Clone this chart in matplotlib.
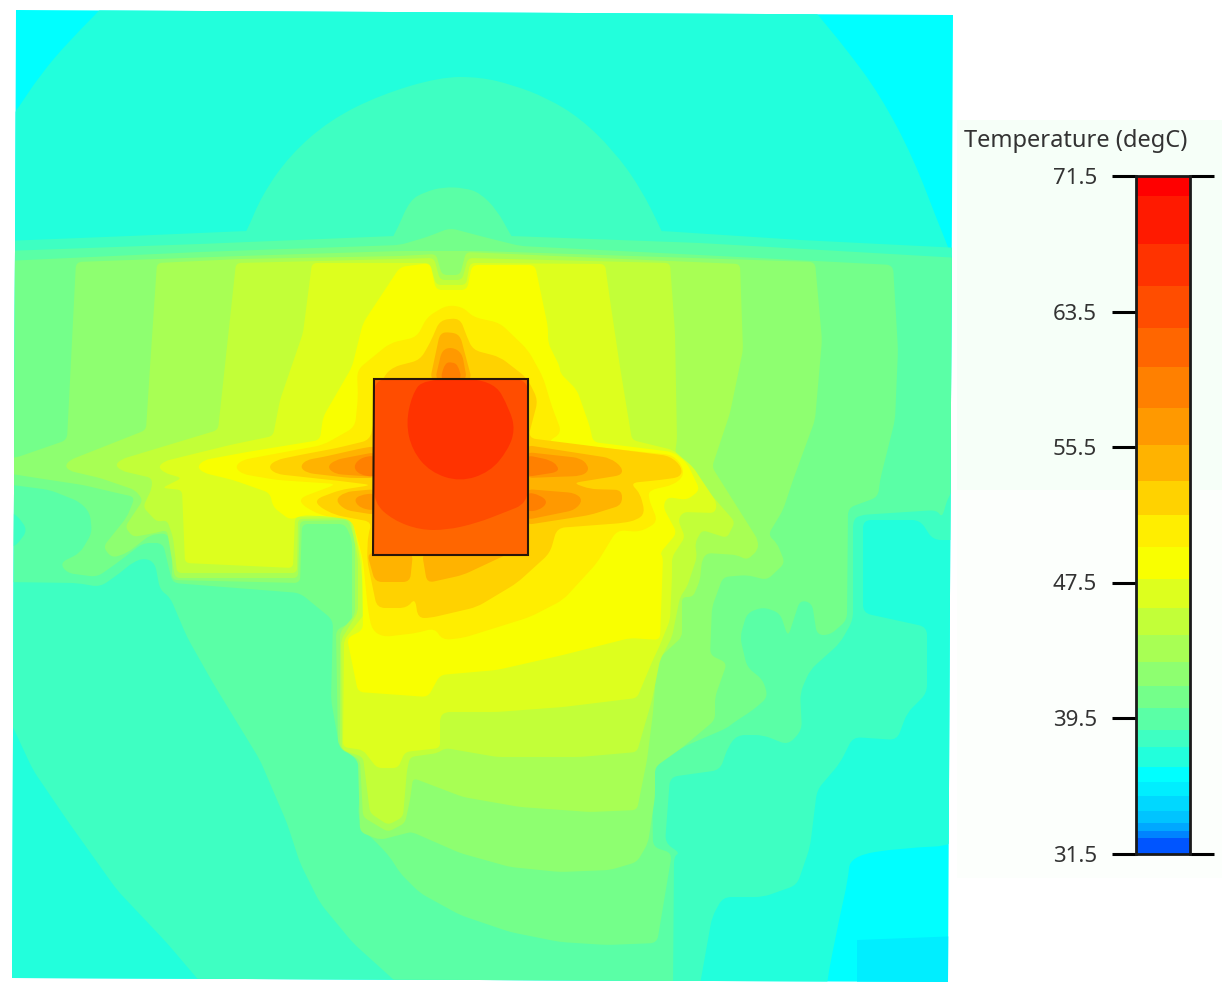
import numpy as np
import matplotlib
matplotlib.use("Agg")
import matplotlib.pyplot as plt
from matplotlib.colors import ListedColormap, BoundaryNorm
from matplotlib.path import Path
from matplotlib.patches import PathPatch, Polygon, Rectangle

# colour scale of the legend (degC band edges, low to high)
BAND_EDGES = [31.5, 32.4, 32.8, 33.3, 34.0, 34.9, 35.7, 36.6, 37.8, 38.8, 40.1, 41.4, 42.8,
              44.4, 46.0, 47.7, 49.6, 51.5, 53.5, 55.6, 57.8, 60.2, 62.5, 65.0, 67.5, 70.3, 71.5]
BAND_COLORS = ['#0055FF', '#0084FF', '#00A8FF', '#00C4FF', '#00D8FF', '#00EEFF', '#00FFFF',
               '#22FFDC', '#3EFFC2', '#5AFFA6', '#74FF8A', '#8EFF70', '#A8FF54', '#C2FF38',
               '#DDFF1E', '#F9FF00', '#FFEE00', '#FFD200', '#FFB300', '#FF9900', '#FF8000',
               '#FF6600', '#FF4D00', '#FF3300', '#FF1A00', '#FF0000']
TICK_VALUES = [31.5, 39.5, 47.5, 55.5, 63.5, 71.5]
LEGEND_TITLE = 'Temperature (degC)'

# map outline
MAP_FRAME = [(16, 10), (953, 15), (948, 982), (12, 978)]

# isotherm outlines: (x, y) of each closed region at or above the level
ISO_35_7 = [(5, 10), (5, 1000), (960, 1000), (960, 10)]
ISO_36_6 = [(-20, 160), (15, 113), (40, 75), (70, 40), (110, 0), (120, -20), (790, -20), (817, 14), (847, 50), (880, 95),
            (913, 157), (942, 233), (970, 300), (970, 845), (900, 848), (850, 856), (848, 880), (840, 915),
            (825, 990), (825, 1020), (-20, 1020)]
ISO_37_8 = [(5, 241), (130, 236), (247, 231), (662, 231), (800, 240), (960, 248),
            (960, 540), (933, 540), (920, 520), (863, 520), (863, 613), (927, 627), (927, 693), (907, 713),
            (897, 740), (853, 737), (840, 763), (817, 790), (810, 847), (797, 885), (763, 897), (723, 897),
            (712, 917), (699, 990), (207, 990), (167, 943), (117, 890), (67, 820), (33, 770), (5, 710)]
ISO_37_8_DOME = [(230, 262), (247, 231), (262, 195), (290, 155), (330, 120), (380, 95), (440, 77), (480, 77),
                 (513, 85), (547, 98), (580, 118), (613, 150), (640, 187), (662, 231), (675, 262)]
ISO_38_8 = [(5, 251), (200, 244), (395, 236), (510, 236), (700, 243),
            (960, 258), (960, 480), (948, 497), (942, 518), (937, 510), (860, 515), (853, 520), (853, 620),
            (840, 643), (810, 670), (800, 693), (802, 730), (788, 745), (763, 735), (737, 735), (728, 747),
            (720, 770), (670, 777), (665, 843), (680, 853), (674, 856), (673, 990), (405, 990), (353, 943),
            (320, 903), (300, 863), (287, 823), (260, 760), (213, 683), (187, 637), (170, 597), (160, 590),
            (155, 563), (145, 558), (133, 562), (120, 573), (100, 587), (77, 583), (5, 582)]
ISO_38_8_DOME = [(385, 250), (395, 234), (410, 200), (425, 192), (443, 187), (465, 188), (480, 193), (497, 210),
                 (510, 234), (520, 250)]
ISO_37_8_BLOB = [(5, 513), (15, 513), (28, 530), (15, 547), (5, 547)]
ISO_40_1 = [(5, 261), (200, 252), (400, 245), (427, 237), (450, 228), (480, 236), (520, 246), (700, 255), (893, 265),
            (898, 350), (895, 420), (880, 480), (878, 497), (848, 508), (847, 620), (830, 635), (817, 635),
            (812, 603), (800, 600), (788, 637), (780, 613), (763, 607), (747, 613), (740, 637), (747, 667),
            (763, 680), (768, 697), (753, 710), (733, 723), (727, 728), (683, 747), (657, 765), (652, 773),
            (653, 847), (672, 853), (657, 943), (607, 945), (560, 942), (510, 932), (460, 915), (420, 893),
            (400, 873), (390, 857), (377, 843), (363, 830), (358, 815), (362, 770), (353, 755), (340, 750),
            (331, 700), (333, 620), (300, 593), (173, 583), (170, 573), (163, 543), (143, 543), (117, 563),
            (97, 577), (67, 573), (60, 563), (80, 553), (92, 533), (90, 513), (80, 502), (50, 490), (5, 484)]
ISO_41_4 = [(76, 262), (240, 256), (400, 251), (480, 251), (815, 262), (822, 340), (815, 420), (793, 480), (783, 510),
            (768, 535), (777, 543), (785, 563), (767, 580), (747, 575), (723, 577), (712, 607), (710, 655),
            (727, 663), (715, 697), (715, 720), (683, 747), (655, 767), (655, 797), (648, 843), (637, 862),
            (610, 870), (560, 872), (510, 867), (460, 853), (412, 832), (407, 833), (380, 840), (360, 832),
            (358, 760), (338, 745), (336, 630), (352, 622), (352, 540), (345, 524), (302, 524), (300, 583),
            (172, 580), (172, 547), (167, 533), (150, 535), (140, 543), (127, 553), (112, 558), (103, 547),
            (127, 517), (135, 497), (117, 493), (83, 485), (50, 480), (5, 473), (5, 458), (15, 458), (67, 440)]
ISO_42_8 = [(157, 263), (240, 259), (400, 256), (436, 254), (442, 275), (460, 275), (466, 252), (600, 258), (740, 264),
            (743, 350), (730, 413), (712, 467), (758, 540), (758, 550), (747, 560), (737, 555), (707, 553),
            (702, 560), (700, 580), (693, 597), (682, 597), (682, 637), (657, 660), (653, 713), (647, 760),
            (637, 810), (590, 812), (520, 807), (463, 797), (413, 778), (410, 800), (405, 823), (388, 832),
            (363, 817), (360, 760), (340, 748), (340, 632), (355, 615), (355, 540), (348, 520), (300, 521),
            (298, 578), (175, 578), (167, 530), (155, 533), (133, 537), (125, 527), (143, 500), (135, 490),
            (100, 478), (70, 471), (65, 466), (70, 460), (146, 430), (150, 367)]
ISO_44_4 = [(236, 263), (320, 261), (434, 258), (440, 280), (462, 280), (468, 258), (670, 263), (675, 333), (677, 440),
            (675, 453), (735, 522), (727, 538), (702, 530), (695, 543), (697, 557), (687, 587), (680, 597),
            (672, 637), (660, 660), (652, 700), (637, 752), (580, 757), (497, 757), (445, 748), (438, 753),
            (410, 757), (407, 770), (403, 817), (388, 825), (370, 813), (363, 757), (342, 750), (341, 640),
            (358, 612), (358, 560), (350, 518), (298, 519), (297, 573), (177, 573), (173, 537), (167, 520),
            (157, 522), (143, 507), (152, 488), (152, 478), (122, 471), (115, 465), (122, 459), (218, 430)]
ISO_46_0 = [(312, 263), (430, 263), (436, 285), (466, 285), (470, 263), (605, 264), (610, 300), (620, 367), (632, 440),
            (673, 450), (693, 467), (717, 503), (715, 513), (683, 512), (678, 520), (685, 537), (672, 557),
            (672, 577), (670, 620), (660, 645), (652, 662), (637, 698), (563, 707), (497, 712), (445, 712),
            (440, 717), (440, 748), (405, 752), (398, 768), (377, 768), (363, 750), (343, 747), (344, 640),
            (366, 612), (360, 560), (352, 515), (295, 517), (293, 568), (185, 563), (182, 490), (162, 488),
            (182, 478), (165, 473), (158, 467), (165, 461), (230, 445), (273, 436), (280, 400), (303, 333)]
ISO_47_7 = [(197, 467), (204, 460), (247, 452), (320, 440), (323, 417), (352, 367), (363, 323), (400, 267), (430, 263),
            (436, 290), (467, 290),
            (472, 265), (535, 265), (548, 327), (548, 343), (560, 367), (560, 373), (577, 390), (590, 427),
            (593, 442), (673, 452), (687, 463), (700, 490), (687, 500), (667, 497), (663, 507), (677, 533),
            (660, 553), (663, 557), (660, 640), (630, 638), (563, 655), (497, 670), (440, 675), (428, 697),
            (358, 692), (347, 638), (363, 630), (362, 560), (352, 518), (303, 515), (290, 520), (273, 507),
            (270, 493), (233, 480), (204, 473)]
ISO_49_6 = [(235, 467), (242, 460), (285, 452), (323, 445), (355, 427), (358, 397), (357, 370), (390, 343), (417, 337),
            (427, 317), (447, 305),
            (463, 307), (473, 317), (500, 323), (528, 350), (543, 377), (552, 407), (562, 433), (547, 442),
            (673, 455), (683, 467), (683, 477), (673, 485), (650, 490), (648, 497), (658, 522), (640, 532),
            (617, 530), (597, 563), (563, 600), (530, 617), (463, 638), (442, 640), (435, 628), (417, 633),
            (383, 637), (372, 630), (368, 610), (363, 560), (358, 540), (352, 520), (320, 515), (302, 505),
            (300, 498), (337, 484), (277, 480), (242, 474)]
ISO_51_5 = [(268, 467), (276, 460), (300, 455), (337, 448), (370, 440), (383, 377), (393, 367), (420, 360), (430, 343),
            (440, 320), (460, 318),
            (467, 337), (473, 350), (500, 357), (527, 378), (538, 400), (528, 438), (670, 456), (682, 467),
            (681, 477), (660, 480), (630, 483), (640, 493), (645, 513), (637, 520), (623, 523), (557, 528),
            (550, 553), (517, 583), (477, 607), (430, 618), (418, 618), (415, 598), (407, 608), (377, 608),
            (367, 560), (368, 535), (372, 522), (335, 515), (318, 506), (316, 499), (340, 490), (372, 485),
            (340, 481), (276, 474)]
ISO_53_5 = [
    [(300, 467), (306, 460), (323, 457), (363, 448), (376, 446), (376, 478), (350, 478), (307, 473)],
    [(335, 500), (345, 492), (376, 489), (376, 515), (345, 510)],
    [(430, 380), (440, 333), (450, 332), (460, 335), (472, 380)],
    [(526, 445), (610, 458), (622, 467), (622, 475), (573, 483), (590, 489), (622, 490), (622, 505), (590, 515),
     (526, 525)],
    [(367, 553), (375, 582), (410, 582), (413, 553)],
    [(422, 553), (427, 583), (463, 575), (510, 553)],
]
ISO_55_6 = [
    [(327, 467), (335, 460), (350, 457), (376, 452), (376, 477), (335, 474)],
    [(354, 500), (360, 495), (376, 493), (376, 511), (360, 508)],
    [(435, 380), (442, 350), (452, 347), (462, 353), (467, 380)],
    [(526, 452), (580, 458), (588, 465), (588, 472), (580, 476), (526, 478)],
    [(526, 489), (575, 493), (583, 500), (575, 510), (526, 520)],
]
ISO_57_8 = [
    [(353, 467), (360, 458), (376, 455), (376, 477), (360, 475)],
    [(440, 380), (445, 363), (452, 362), (458, 365), (462, 380)],
    [(526, 455), (550, 460), (558, 466), (558, 472), (526, 477)],
    [(526, 492), (540, 495), (548, 502), (540, 510), (526, 512)],
]
ISO_60_2 = [(374, 379), (528, 379), (528, 555), (373, 555)]
ISO_62_5 = [(374, 379), (528, 379), (528, 503), (503, 513), (477, 523), (447, 530), (420, 530), (393, 520), (374, 503)]
ISO_65_0 = [(423, 379), (412, 395), (406, 423), (412, 450), (430, 472), (460, 482), (490, 472), (508, 450), (515, 430),
            (510, 410), (493, 379)]
ISO_34_9 = [(857, 940), (960, 936), (960, 990), (857, 990)]
CHIP_FRAME = [(374, 379), (528, 379), (528, 555), (373, 555)]

cmap = ListedColormap(BAND_COLORS)
norm = BoundaryNorm(BAND_EDGES, cmap.N)


def rounded(points, r):
    """Closed path through the outline with softened corners (library curves)."""
    p = np.asarray(points, float)
    n = len(p)
    verts, codes = [], []
    for i in range(n):
        a, b, c = p[i - 1], p[i], p[(i + 1) % n]
        la, lc = np.linalg.norm(a - b), np.linalg.norm(c - b)
        s = b + (a - b) * min(r, la / 2) / max(la, 1e-6)
        e = b + (c - b) * min(r, lc / 2) / max(lc, 1e-6)
        verts.append(s)
        codes.append(Path.MOVETO if i == 0 else Path.LINETO)
        verts += [b, e]
        codes += [Path.CURVE3, Path.CURVE3]
    verts.append(verts[0])
    codes.append(Path.CLOSEPOLY)
    return Path(verts, codes)


fig = plt.figure(figsize=(12.25, 9.9), dpi=100, facecolor='white')
ax = fig.add_axes([0, 0, 1, 1])
ax.set_xlim(0, 1225)
ax.set_ylim(990, 0)
ax.axis('off')

# legend panel background
ax.add_patch(Rectangle((957, 120), 265, 370, fc='#F6FFF8', ec='none', zorder=0))
ax.add_patch(Rectangle((957, 490), 265, 388, fc='#FCFFFC', ec='none', zorder=0))

frame = Polygon(MAP_FRAME, closed=True, fc='none', ec='none', transform=ax.transData)
ax.add_patch(frame)

layers = [
    (35.7, ISO_35_7, 0), (36.6, ISO_36_6, 40), (37.8, ISO_37_8, 8), (37.8, ISO_37_8_DOME, 40), (38.8, ISO_38_8, 8),
    (38.8, ISO_38_8_DOME, 15), (37.8, ISO_37_8_BLOB, 8), (40.1, ISO_40_1, 7), (41.4, ISO_41_4, 6),
    (42.8, ISO_42_8, 5), (44.4, ISO_44_4, 5), (46.0, ISO_46_0, 5), (47.7, ISO_47_7, 6), (49.6, ISO_49_6, 8),
    (51.5, ISO_51_5, 8),
]
for level, shapes in zip([53.5, 55.6, 57.8], [ISO_53_5, ISO_55_6, ISO_57_8]):
    for s in shapes:
        layers.append((level, s, 7))
layers += [(60.2, ISO_60_2, 0), (62.5, ISO_62_5, 14), (65.0, ISO_65_0, 30), (34.9, ISO_34_9, 0)]

for level, outline, r in layers:
    patch = PathPatch(rounded(outline, r), fc=cmap(norm(level)), ec='none', lw=0, zorder=2)
    ax.add_patch(patch)
    patch.set_clip_path(frame)

ax.add_patch(Polygon(CHIP_FRAME, closed=True, fc='none', ec='#2A1608', lw=1.5, zorder=3))

# legend colour bar with its own temperature axis
cax = fig.add_axes([1136 / 1225, 1 - 853.5 / 990, 54 / 1225, 677.5 / 990])
cax.pcolormesh([0, 1], BAND_EDGES, np.array(BAND_EDGES[:-1])[:, None] + 0.01, cmap=cmap, norm=norm)
cax.set_xticks([])
cax.set_ylim(31.5, 71.5)
cax.set_yticks(TICK_VALUES, [f'{v:.1f}' for v in TICK_VALUES])
cax.tick_params(axis='y', length=17, width=2.2, color='black', pad=11, labelsize=16, labelcolor='#333333')
for lab in cax.get_yticklabels():
    lab.set_family('Noto Sans')
for s in cax.spines.values():
    s.set_linewidth(2.0)
    s.set_color('#1a1a1a')
for v in (TICK_VALUES[0], TICK_VALUES[-1]):
    cax.plot([1, 1.44], [v, v], color='black', lw=2.2, clip_on=False,
             transform=cax.get_yaxis_transform(), solid_capstyle='butt')
ax.text(1076, 141, LEGEND_TITLE, ha='center', va='center', fontsize=17, color='#333333',
        family='Noto Sans', zorder=4)

fig.savefig('out.png', dpi=100, facecolor='white')
